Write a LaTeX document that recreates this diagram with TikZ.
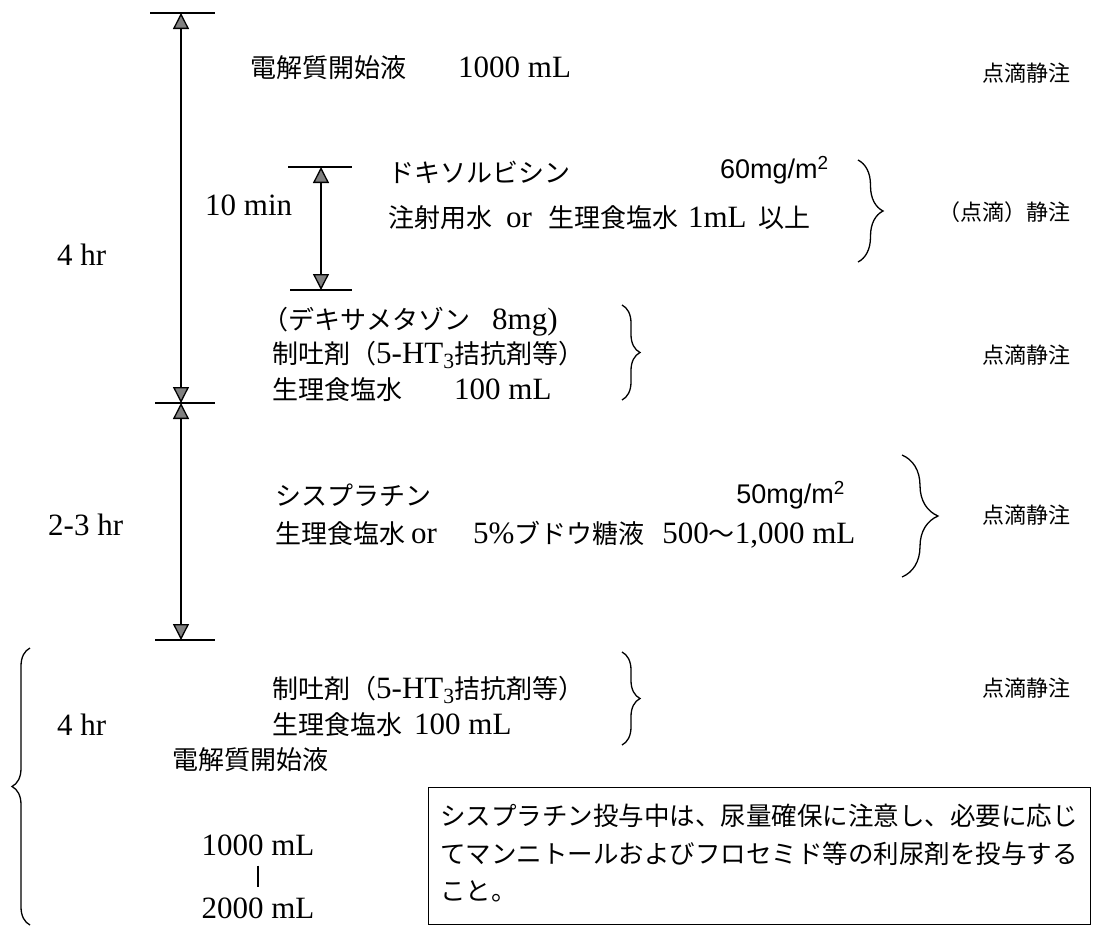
\documentclass[tikz,border=0pt]{standalone}
\usepackage{fontspec}
\setmainfont{Liberation Serif}
\newfontfamily\jpfont{Noto Sans CJK JP}
\newfontfamily\arfont{Liberation Sans}
\usetikzlibrary{arrows.meta,decorations.pathreplacing}
\newcommand{\J}[1]{{\jpfont\fontsize{26}{30}\selectfont #1}}
\newcommand{\Js}[1]{{\jpfont\fontsize{22}{26}\selectfont #1}}
\begin{document}
\begin{tikzpicture}[x=1pt,y=-1pt,
  txt/.style={anchor=west,inner sep=0pt,font=\fontsize{31}{36}\selectfont},
  rtxt/.style={anchor=east,inner sep=0pt},
  tick/.style={line width=1.3pt},
  arr/.style={line width=1.3pt,{Triangle[width=16pt,length=16pt,fill=black!50]}-{Triangle[width=16pt,length=16pt,fill=black!50]}},
  brc/.style={line width=1.3pt,decorate,decoration={brace,amplitude=#1}}
]
\useasboundingbox (0,0) rectangle (1105,926);

% ---- ticks and arrows ----
\coordinate (a1t) at (181,13);
\coordinate (a1b) at (181,403);
\coordinate (a2b) at (181,640);
\coordinate (k1L) at (150,13);  \coordinate (k1R) at (215,13);
\coordinate (k2L) at (155,403); \coordinate (k2R) at (215,403);
\coordinate (k3L) at (155,640); \coordinate (k3R) at (215,640);
\draw[tick] (k1L) -- (k1R);
\draw[tick] (k2L) -- (k2R);
\draw[tick] (k3L) -- (k3R);
\draw[arr] (a1t) -- (a1b);
\draw[arr] (a1b) -- (a2b);

\coordinate (s1t) at (321,167);
\coordinate (s1b) at (321,290);
\coordinate (k4L) at (288,167); \coordinate (k4R) at (352,167);
\coordinate (k5L) at (290,290); \coordinate (k5R) at (352,290);
\draw[tick] (k4L) -- (k4R);
\draw[tick] (k5L) -- (k5R);
\draw[arr] (s1t) -- (s1b);

% ---- left labels ----
\node[txt] (h1) at (57,255) {4 hr};
\node[txt] (m1) at (205,205) {10 min};
\node[txt] (h2) at (48,525) {2-3 hr};
\node[txt] (h3) at (57,725) {4 hr};

% ---- block 1 ----
\node[txt] (t1) at (250,68) {\J{電解質開始液}\hspace{52pt}1000 mL};
\node[rtxt] (r1) at (1071,73) {\Js{点滴静注}};

% ---- block 2: doxorubicin ----
\node[txt] (d1) at (388,172) {\J{ドキソルビシン}};
\node[txt] (d2) at (720,170) {\arfont\fontsize{27}{32}\selectfont 60mg/m\textsuperscript{2}};
\node[txt] (d3) at (388,218) {\J{注射用水}\hspace{14pt}or\hspace{16pt}\J{生理食塩水}\hspace{10pt}1mL\hspace{12pt}\J{以上}};
\coordinate (b1t) at (858,160);
\coordinate (b1b) at (858,262);
\draw[brc=25pt] (b1t) -- (b1b);
\node[rtxt] (r2) at (1071,212) {\Js{（点滴）静注}};

% ---- block 3 ----
\node[txt] (x1) at (262,322) {\J{（デキサメタゾン}\hspace{22pt}8mg)};
\node[txt] (x2) at (272,355) {\J{制吐剤（}5-HT\textsubscript{3}\J{拮抗剤等）}};
\node[txt] (x3) at (272,390) {\J{生理食塩水}\hspace{52pt}100 mL};
\coordinate (b2t) at (622,305);
\coordinate (b2b) at (622,400);
\draw[brc=18pt] (b2t) -- (b2b);
\node[rtxt] (r3) at (1071,355) {\Js{点滴静注}};

% ---- block 4: cisplatin ----
\node[txt] (c1) at (275,495) {\J{シスプラチン}};
\node[rtxt] (c2) at (845,495) {\arfont\fontsize{27}{32}\selectfont 50mg/m\textsuperscript{2}};
\node[txt] (c3) at (275,535) {\J{生理食塩水}\hspace{6pt}or\hspace{36pt}5\%\J{ブドウ糖液}\hspace{18pt}500\J{〜}1,000 mL};
\coordinate (b3t) at (902,455);
\coordinate (b3b) at (902,577);
\draw[brc=36pt] (b3t) -- (b3b);
\node[rtxt] (r4) at (1071,515) {\Js{点滴静注}};

% ---- block 5 ----
\node[txt] (e1) at (272,690) {\J{制吐剤（}5-HT\textsubscript{3}\J{拮抗剤等）}};
\node[txt] (e2) at (272,725) {\J{生理食塩水}\hspace{12pt}100 mL};
\coordinate (b4t) at (622,652);
\coordinate (b4b) at (622,745);
\draw[brc=18pt] (b4t) -- (b4b);
\node[rtxt] (r5) at (1071,688) {\Js{点滴静注}};
\node[txt] (e3) at (172,760) {\J{電解質開始液}};

\coordinate (b5b) at (30,925);
\coordinate (b5t) at (30,648);
\draw[brc=18pt] (b5b) -- (b5t);

\node[inner sep=0pt,font=\fontsize{31}{36}\selectfont] (v1) at (258,845) {1000 mL};
\node[inner sep=0pt,font=\fontsize{31}{36}\selectfont] (v2) at (258,908) {2000 mL};
\draw[line width=1.5pt,shorten <=10pt,shorten >=10pt] (v1.south) -- (v2.north);

% ---- note box ----
\node[draw,line width=1.3pt,anchor=north west,minimum width=662pt,minimum height=137pt,inner sep=0pt] (box) at (428,787) {};
\node[anchor=north west,inner sep=0pt,align=left,font=\jpfont\fontsize{25.5}{37.5}\selectfont] (note) at (440,804)
  {シスプラチン投与中は、尿量確保に注意し、必要に応じ\\てマンニトールおよびフロセミド等の利尿剤を投与する\\こと。};
\end{tikzpicture}
\end{document}
